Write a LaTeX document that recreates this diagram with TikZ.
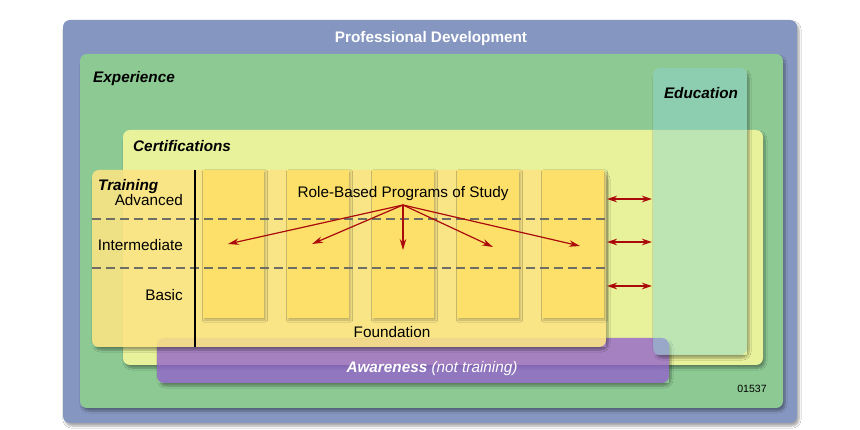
\documentclass[tikz,border=0pt]{standalone}
\usepackage{fontspec}
\setmainfont{Liberation Sans}
\usetikzlibrary{arrows.meta,shadows.blur}
\definecolor{pdblue}{RGB}{133,150,192}
\definecolor{expgreen}{RGB}{141,201,147}
\definecolor{certyellow}{RGB}{232,242,155}
\definecolor{trainyellow}{RGB}{252,228,132}
\definecolor{colyellow}{RGB}{253,224,106}
\definecolor{awarepurple}{RGB}{145,95,205}
\definecolor{eduteal}{RGB}{140,214,209}
\definecolor{arrowred}{RGB}{170,10,10}
\definecolor{dashgray}{RGB}{110,110,100}
\tikzset{
  boxshadow/.style={blur shadow={shadow xshift=2pt, shadow yshift=-3pt, shadow blur steps=6, shadow opacity=35}},
  box/.style={rounded corners=7pt, boxshadow},
  colbox/.style={fill=colyellow, blur shadow={shadow xshift=1.5pt, shadow yshift=-2pt, shadow blur steps=4, shadow opacity=25}},
  txt/.style={inner sep=0pt, text height=10.5pt, text depth=0pt},
  title/.style={txt, font=\bfseries\itshape\fontsize{15.3}{17}\selectfont},
  lvl/.style={txt, font=\fontsize{15.3}{17}\selectfont},
  fan/.style={draw=arrowred, line width=1.2pt, -{Stealth[length=11pt,width=6.5pt]}},
  link/.style={draw=arrowred, line width=1.2pt, {Stealth[length=10pt,width=6.5pt]}-{Stealth[length=10pt,width=6.5pt]}},
  dashline/.style={draw=dashgray, line width=1.1pt, dash pattern=on 9pt off 5pt}
}
% shadow of a see-through box, kept outside the box itself
\newcommand\OuterShadow[4]{%
  \begin{scope}
    \clip (0,0) -- (860,0) -- (860,430) -- (0,430) -- cycle
          (#1,#2) -- (#1,#4) -- (#3,#4) -- (#3,#2) -- cycle;
    \path[rounded corners=7pt, boxshadow] (#1,#2) rectangle (#3,#4);
  \end{scope}}
\begin{document}
\begin{tikzpicture}[x=1pt,y=-1pt]
\useasboundingbox[fill=white] (0,0) rectangle (860,430);
% boxes
\path[box, fill=pdblue] (63,20) rectangle (797,423);
\path[box, fill=expgreen] (80,54) rectangle (783,408);
\path[box, fill=certyellow] (123,130) rectangle (763,365);
\OuterShadow{157}{338}{669}{383}
\path[rounded corners=7pt, fill=awarepurple, fill opacity=0.77] (157,338) rectangle (669,383);
\OuterShadow{92}{170}{606}{347}
\path[rounded corners=7pt, fill=trainyellow, fill opacity=0.87] (92,170) rectangle (606,347);
% columns
\path[colbox] (203,170) rectangle (264,318);
\path[colbox] (287,170) rectangle (349,318);
\path[colbox] (372,170) rectangle (434,318);
\path[colbox] (457,170) rectangle (519,318);
\path[colbox] (542,170) rectangle (604,318);
% level lines
\coordinate (d1a) at (92,219); \coordinate (d1b) at (606,219);
\coordinate (d2a) at (92,268); \coordinate (d2b) at (606,268);
\draw[dashline] (d1a) -- (d1b);
\draw[dashline] (d2a) -- (d2b);
\coordinate (vtop) at (195,170); \coordinate (vbot) at (195,347);
\draw[black, line width=1.3pt] (vtop) -- (vbot);
% education
\OuterShadow{653}{68}{747}{355}
\path[rounded corners=7pt, fill=eduteal, fill opacity=0.46] (653,68) rectangle (747,355);
% texts
\node[txt, font=\bfseries\fontsize{15.3}{17}\selectfont, text=white] (pd) at (431,37) {Professional Development};
\node[title, anchor=west] (exp) at (93,77) {Experience};
\node[title] (edu) at (701,93) {Education};
\node[title, anchor=west] (cert) at (133,146) {Certifications};
\node[title, anchor=west] (train) at (98,185) {Training};
\node[lvl, anchor=east] (adv) at (183,200) {Advanced};
\node[lvl, anchor=east] (inter) at (183,245) {Intermediate};
\node[lvl, anchor=east] (basic) at (183,295) {Basic};
\node[lvl] (rbp) at (403,192) {Role-Based Programs of Study};
\node[lvl] (found) at (392,332) {Foundation};
\node[txt, font=\fontsize{15.3}{17}\selectfont, text=white] (aware) at (432,367) {\textbf{\textit{Awareness}} \textit{(not training)}};
\node[font=\fontsize{10.5}{12}\selectfont, inner sep=0pt, text height=7.5pt, text depth=0pt] (num) at (752,389) {01537};
% fan arrows
\coordinate (hub) at (403,205);
\coordinate (t1) at (228,244);
\coordinate (t2) at (312,244);
\coordinate (t3) at (403,250);
\coordinate (t4) at (493,247);
\coordinate (t5) at (580,246);
\foreach \t in {t1,t2,t3,t4,t5} \draw[fan] (hub) -- (\t);
% links to education
\coordinate (la1) at (607,199); \coordinate (lb1) at (652,199);
\coordinate (la2) at (607,242); \coordinate (lb2) at (652,242);
\coordinate (la3) at (607,286); \coordinate (lb3) at (652,286);
\draw[link] (la1) -- (lb1);
\draw[link] (la2) -- (lb2);
\draw[link] (la3) -- (lb3);
\end{tikzpicture}
\end{document}
